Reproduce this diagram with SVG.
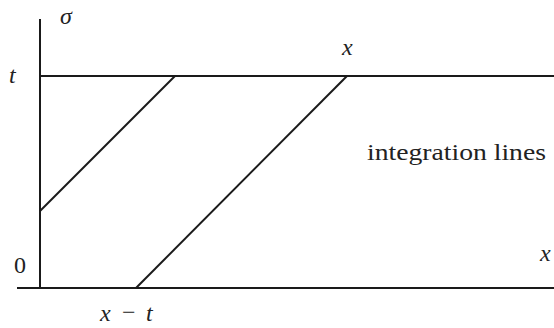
<svg xmlns="http://www.w3.org/2000/svg" width="554" height="328" viewBox="0 0 554 328">
<style>
.ln{stroke:#1a1a1a;stroke-width:2;fill:none}
.t{font-family:"Liberation Serif",serif;font-size:24px;fill:#222}
.i{font-style:italic}
</style>
<rect width="554" height="328" fill="#fff"/>
<g id="connectors">
<line class="ln" x1="40" y1="19" x2="40" y2="289"/>
<line class="ln" x1="17" y1="288" x2="554" y2="288"/>
<line class="ln" x1="40" y1="76" x2="554" y2="76"/>
<line class="ln" x1="40" y1="211" x2="175" y2="76"/>
<line class="ln" x1="136" y1="288" x2="347" y2="76"/>
</g>
<g id="labels">
<text class="t i" x="60" y="24">σ</text>
<text class="t i" x="9" y="83">t</text>
<text class="t i" x="342" y="55">x</text>
<text class="t" x="367" y="160" textLength="179" lengthAdjust="spacingAndGlyphs">integration lines</text>
<text class="t i" x="540" y="261">x</text>
<text class="t" x="14" y="273">0</text>
<text class="t i" x="100" y="321">x</text>
<text class="t" x="122" y="320">−</text>
<text class="t i" x="146" y="321">t</text>
</g>
</svg>
